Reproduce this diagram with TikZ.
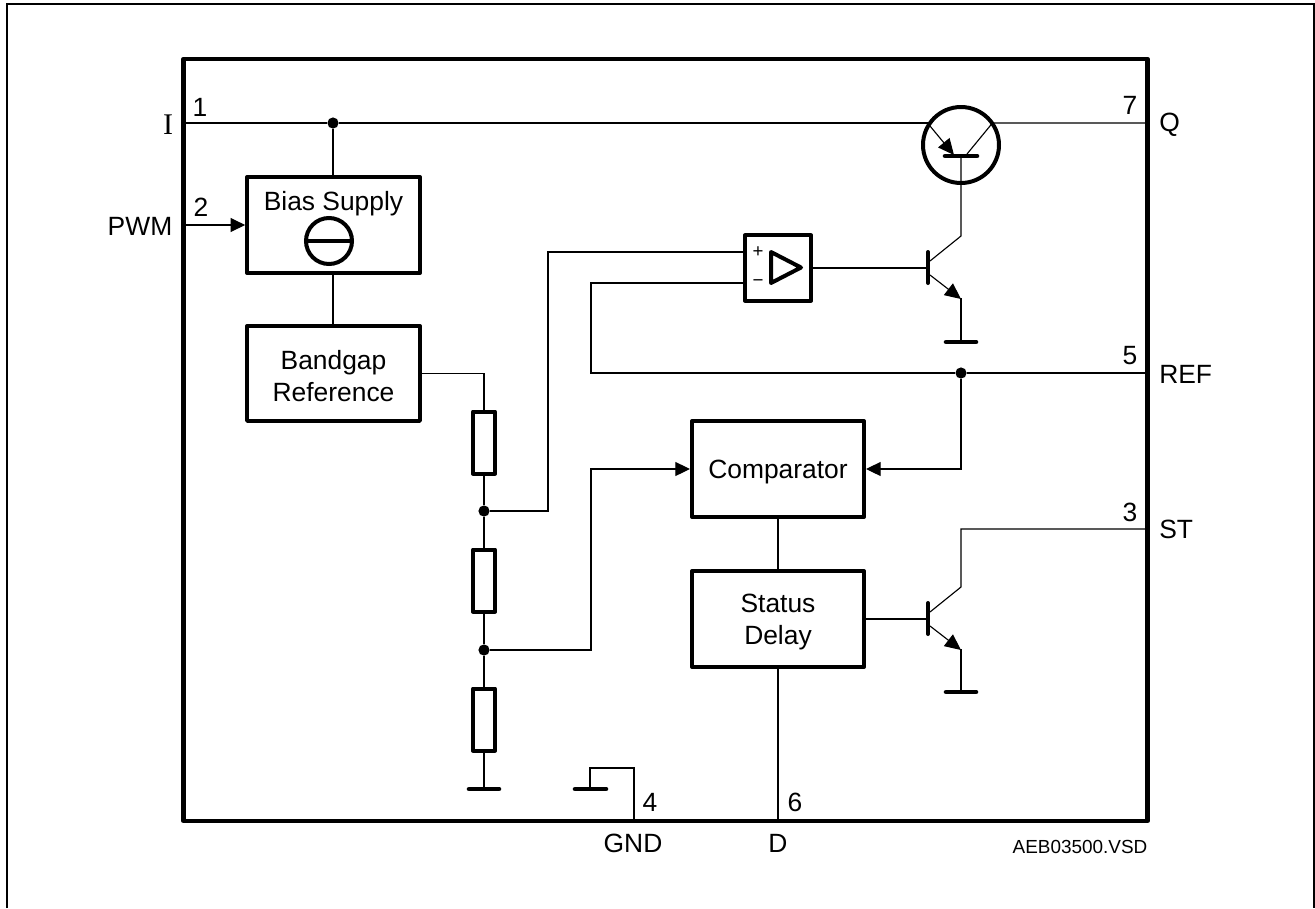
\documentclass[tikz,border=0pt]{standalone}
\usepackage{fontspec}
\setmainfont{Liberation Sans}
\newfontfamily\serifI{Liberation Serif}
\usetikzlibrary{arrows.meta}
\newcommand{\upstrut}{\rule{0pt}{18.5pt}}
\tikzset{
  wire/.style={line width=0.85pt,line join=miter},
  heavy/.style={line width=3pt,line join=round},
  block/.style={draw,line width=3pt,line join=round,inner sep=0pt,align=center,font=\fontsize{19.8}{24}\selectfont,fill=white},
  lbl/.style={inner sep=0pt,font=\fontsize{19.8}{24}\selectfont},
  tiny/.style={inner sep=0pt,font=\fontsize{14.2}{18}\selectfont},
  dot/.style={circle,fill=black,inner sep=0pt,minimum size=8.4pt},
  arr/.style={wire,-{Triangle[length=11pt,width=10.5pt]}},
  emit/.style={wire,-{Triangle[length=12pt,width=11pt]}},
  res/.style={draw,line width=3pt,line join=round,inner sep=0pt,minimum width=16.5pt,minimum height=46.5pt,fill=white},
  gndbar/.style={line width=3.4pt,line cap=round},
}
\begin{document}
\begin{tikzpicture}[x=0.75pt,y=-0.75pt]
\useasboundingbox (0,0) rectangle (1315,908);
% frames
\draw[line width=1.6pt] (7,908) -- (7,4) -- (1314,4) -- (1314,908);
\node[draw,line width=3.2pt,line join=round,inner sep=0pt,minimum width=723pt,minimum height=571.5pt] (chip) at (665.5,440) {};
% coordinates
\coordinate (pinI) at (184,123);
\coordinate (pinQ) at (1147,123);
\coordinate (pinPWM) at (184,225);
\coordinate (pinREF) at (1147,373);
\coordinate (pinST) at (1147,529);
\coordinate (pinGND) at (634,820);
\coordinate (pinD) at (778,820);
% blocks
\node[block,minimum width=129.5pt,minimum height=72pt] (bias) at (333.5,225) {};
\node[lbl] (biasT) at (333.5,204) {Bias Supply};
\node[draw,circle,line width=3pt,inner sep=0pt,minimum size=34.5pt] (src) at (329,241) {};
\draw[heavy] (src.west) -- (src.east);
\node[block,minimum width=129.5pt,minimum height=71pt] (band) at (333.5,373.5) {\upstrut Bandgap\\Reference};
\node[block,minimum width=129pt,minimum height=72pt] (comp) at (778,469) {\upstrut Comparator};
\node[block,minimum width=129pt,minimum height=72pt] (delay) at (778,619) {\upstrut Status\\Delay};
\node[block,minimum width=49.5pt,minimum height=49pt] (amp) at (778,268) {};
\draw[line width=3pt,line join=round] (771,252) -- (801,267.5) -- (771,283) -- cycle;
\node[inner sep=0pt,font=\fontsize{14}{14}\selectfont] (plus) at (758,252) {+};
\node[inner sep=0pt,font=\fontsize{14}{14}\selectfont] (minus) at (758,283) {\char"2212};
% resistors
\node[res] (r1) at (484,442.5) {};
\node[res] (r2) at (484,580.5) {};
\node[res] (r3) at (484,719.5) {};
\node[dot] (j1) at (333,123) {};
\node[dot] (j2) at (484,511) {};
\node[dot] (j3) at (484,650) {};
\node[dot] (j4) at (961,373) {};
% ground
\coordinate (g1) at (484,789);
\draw[gndbar] (469,789) -- (499,789);
\coordinate (g2) at (590,789);
\draw[gndbar] (575,789) -- (606,789);
% wiring left
\draw[wire] (pinI) -- (j1);
\draw[wire] (j1) -- (bias.north -| j1);
\draw[wire] (bias.south -| j1) -- (band.north -| j1);
\draw[arr] (pinPWM) -- (bias.west |- pinPWM);
\draw[wire] (band.east) -| (r1.north);
\draw[wire] (r1.south) -- (j2) -- (r2.north);
\draw[wire] (r2.south) -- (j3) -- (r3.north);
\draw[wire] (r3.south) -- (g1);
\draw[wire] (j2) -- (548,511) -- (548,252) -- (amp.west |- 0,252);
\draw[wire] (amp.west |- 0,283) -- (591,283) -- (591,373) -- (j4);
\draw[wire] (j4) -- (pinREF);
\draw[arr] (j3) -- (591,650) -- (591,469) -- (comp.west);
\draw[arr] (j4) -- (961,469) -- (comp.east);
\draw[wire] (comp.south) -- (delay.north);
\draw[wire] (delay.south) -- (pinD);
\draw[wire] (g2) -- (590,768) -- (634,768) -- (pinGND);
% pass transistor
\node[draw,circle,line width=3pt,inner sep=0pt,minimum size=57pt] (pass) at (961,145) {};
\coordinate (passB) at (961,156);
\draw[gndbar] (945,156) -- (977,156);
\draw[wire] (j1) -- (928,123);
\draw[emit] (930,126) -- (954,155);
\draw[wire] (967,154) -- (990,126) -- (992,123) -- (pinQ);
% driver transistor
\coordinate (b1) at (928,268);
\draw[line width=3pt,line cap=round] (928,252) -- (928,283);
\draw[wire] (amp.east) -- (b1);
\draw[wire] (passB) -- (961,236) -- (930,261);
\draw[emit] (930,275) -- (961,299);
\draw[wire] (961,298) -- (961,341);
\draw[gndbar] (946,342) -- (976,342);
% status transistor
\coordinate (b2) at (928,619);
\draw[line width=3pt,line cap=round] (928,603) -- (928,634);
\draw[wire] (delay.east) -- (b2);
\draw[wire] (pinST) -- (961,529) -- (961,587) -- (930,612);
\draw[emit] (930,626) -- (961,650);
\draw[wire] (961,649) -- (961,692);
\draw[gndbar] (946,692) -- (976,692);
% labels
\node[inner sep=0pt,font=\serifI\fontsize{22.5}{24}\selectfont] (tI) at (168,125) {I};
\node[lbl] (t1) at (200,107) {1};
\node[lbl] (t2) at (201,207) {2};
\node[lbl] (tPWM) at (140,226) {PWM};
\node[lbl] (t7) at (1130,105) {7};
\node[lbl,anchor=west] (tQ) at (1159,125) {Q};
\node[lbl] (t5) at (1130,356) {5};
\node[lbl,anchor=west] (tREF) at (1159,374) {REF};
\node[lbl] (t3) at (1130,512) {3};
\node[lbl,anchor=west] (tST) at (1159,529) {ST};
\node[lbl] (t4) at (650,802) {4};
\node[lbl] (t6) at (795,802) {6};
\node[lbl] (tGND) at (633,843) {GND};
\node[lbl] (tD) at (778,843) {D};
\node[tiny] (tVSD) at (1080,847) {AEB03500.VSD};
\end{tikzpicture}
\end{document}
